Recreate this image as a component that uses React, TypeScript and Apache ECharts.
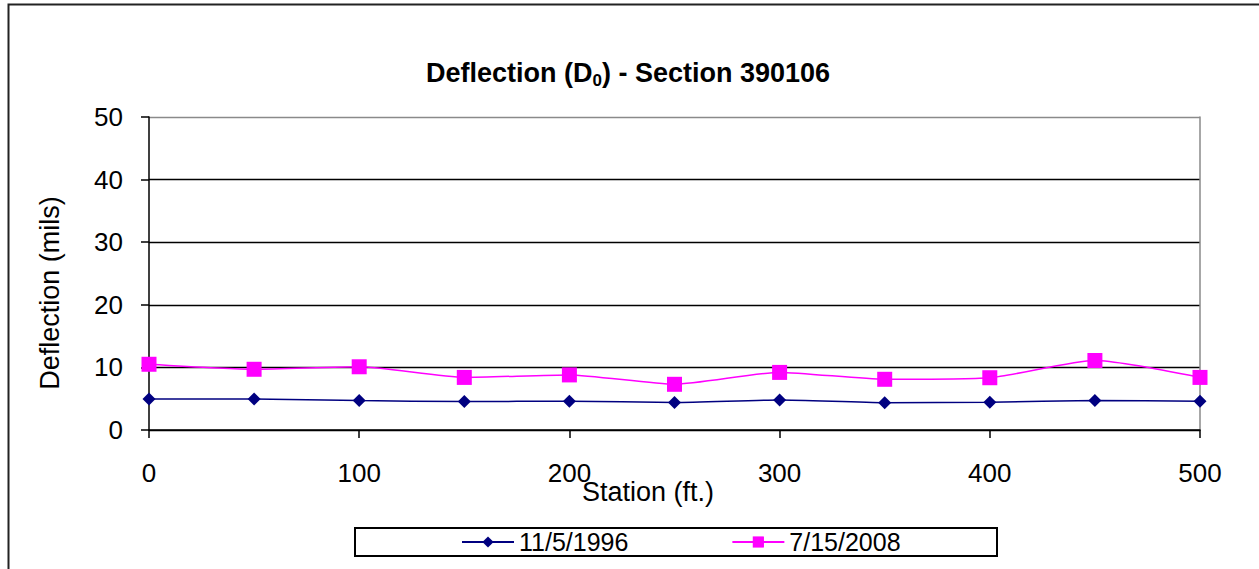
import React, { useEffect, useRef } from "react";
import * as echarts from "echarts";

const stations = [0, 50, 100, 150, 200, 250, 300, 350, 400, 450, 500];
const d1996 = [4.95, 4.95, 4.7, 4.55, 4.6, 4.4, 4.8, 4.35, 4.45, 4.7, 4.6];
const d2008 = [10.5, 9.7, 10.1, 8.4, 8.8, 7.3, 9.2, 8.1, 8.35, 11.1, 8.4];
const seriesNames = ["11/5/1996", "7/15/2008"];
const titleMain = "Deflection (D";
const titleSub = "0";
const titleEnd = ") - Section 390106";
const xTitle = "Station (ft.)";
const yTitle = "Deflection (mils)";

const FONT = "Arial, 'Liberation Sans', sans-serif";

export default function App() {
  const ref = useRef<HTMLDivElement>(null);
  useEffect(() => {
    if (!ref.current) return;
    const chart = echarts.init(ref.current, null, { renderer: "svg" });
    const pair = (vals: number[]) => stations.map((s, i) => [s, vals[i]]);
    chart.setOption({
      animation: false,
      backgroundColor: "#ffffff",
      textStyle: { fontFamily: FONT },
      title: {
        text: `{a|${titleMain}}{s|${titleSub}}{a|${titleEnd}}`,
        left: 623,
        top: 52,
        textAlign: "center",
        textStyle: {
          rich: {
            a: { fontSize: 27, fontWeight: "bold", color: "#000", fontFamily: FONT, lineHeight: 32 },
            s: { fontSize: 17, fontWeight: "bold", color: "#000", fontFamily: FONT, verticalAlign: "bottom", lineHeight: 32, padding: [10, 0, 0, 0] },
          },
        },
      },
      grid: { left: 149, right: 59, top: 117, bottom: 139, containLabel: false },
      xAxis: {
        type: "value",
        min: 0,
        max: 500,
        interval: 100,
        axisLine: { show: true, lineStyle: { color: "#000", width: 1.5 } },
        axisTick: { show: true, length: 8, lineStyle: { color: "#000", width: 1.5 } },
        axisLabel: { fontSize: 26, color: "#000", margin: 30, fontFamily: FONT },
        splitLine: { show: false },
      },
      yAxis: [
        {
          type: "value",
          min: 0,
          max: 50,
          interval: 10,
          axisLine: { show: true, lineStyle: { color: "#000", width: 1.5 } },
          axisTick: { show: true, length: 8, lineStyle: { color: "#000", width: 1.5 } },
          axisLabel: { fontSize: 26, color: "#000", margin: 26, fontFamily: FONT },
          splitLine: {
            show: true,
            lineStyle: { color: ["#000", "#000", "#000", "#000", "#000", "#8a8a8a"], width: 1.4 },
          },
        },
        {
          type: "value",
          min: 0,
          max: 50,
          interval: 10,
          position: "right",
          axisLine: { show: true, lineStyle: { color: "#8a8a8a", width: 1.5 } },
          axisTick: { show: false },
          axisLabel: { show: false },
          splitLine: { show: false },
        },
      ],
      legend: {
        data: seriesNames,
        left: 461,
        top: 529,
        padding: 0,
        itemWidth: 52,
        itemHeight: 14,
        itemGap: 103,
        textStyle: { fontSize: 25, color: "#000", fontFamily: FONT, lineHeight: 26 },
      },
      graphic: [
        {
          type: "rect",
          shape: { x: 8.5, y: 4.5, width: 1300, height: 700 },
          style: { fill: "none", stroke: "#222", lineWidth: 2 },
          silent: true,
        },
        {
          type: "rect",
          shape: { x: 355, y: 528, width: 642, height: 28 },
          style: { fill: "none", stroke: "#000", lineWidth: 2 },
          silent: true,
        },
        {
          type: "text",
          x: 648,
          y: 492,
          style: { text: xTitle, fontSize: 27, fill: "#000", fontFamily: FONT, textAlign: "center", textVerticalAlign: "middle" },
        },
        {
          type: "text",
          x: 50,
          y: 293,
          rotation: Math.PI / 2,
          style: { text: yTitle, fontSize: 27, fill: "#000", fontFamily: FONT, textAlign: "center", textVerticalAlign: "middle" },
        },
      ],
      series: [
        {
          name: seriesNames[0],
          type: "line",
          data: pair(d1996),
          smooth: 0.2,
          symbol: "diamond",
          symbolSize: [13, 13],
          lineStyle: { color: "#000080", width: 1.5 },
          itemStyle: { color: "#000080" },
        },
        {
          name: seriesNames[1],
          type: "line",
          data: pair(d2008),
          smooth: 0.2,
          symbol: "rect",
          symbolSize: 15,
          lineStyle: { color: "#ff00ff", width: 1.5 },
          itemStyle: { color: "#ff00ff" },
        },
      ],
    });
    return () => chart.dispose();
  }, []);
  return (
    <div
      ref={ref}
      style={{ position: "absolute", left: 0, top: 0, width: 1259, height: 569 }}
    />
  );
}
